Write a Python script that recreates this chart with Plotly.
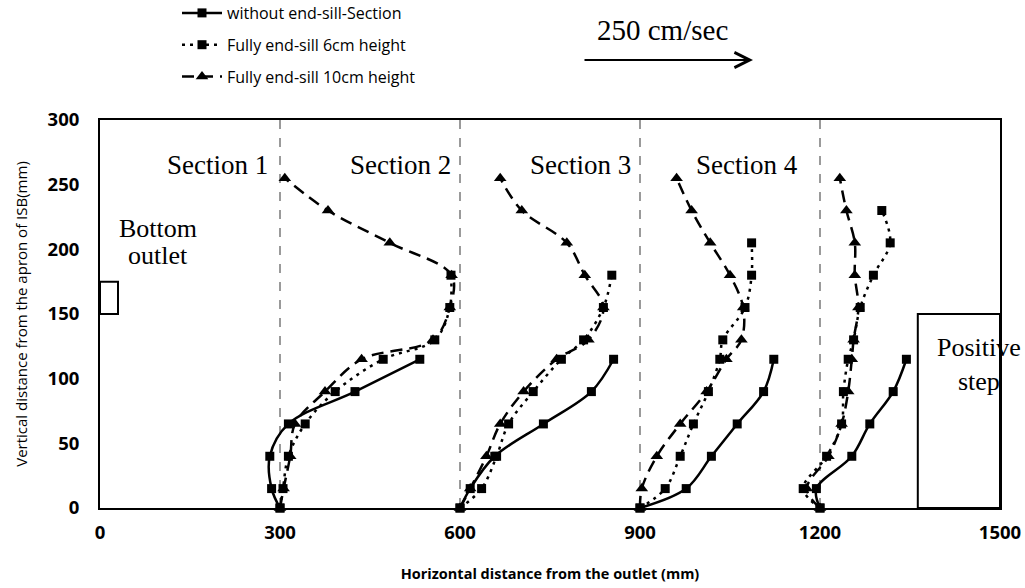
import plotly.graph_objects as go

# ---------------- data (mm) ----------------
series_names = ["without end-sill-Section", "Fully end-sill 6cm height", "Fully end-sill 10cm height"]
section_names = ["Section 1", "Section 2", "Section 3", "Section 4"]
section_bounds = [300, 600, 900, 1200]
x_ticks = [0, 300, 600, 900, 1200, 1500]
y_ticks = [0, 50, 100, 150, 200, 250, 300]

# without end-sill (solid, squares)
no_sill_y = [[0, 15, 40, 65, 90, 115]] * 4
no_sill_x = [
    [300, 286, 283, 314, 425, 533],
    [600, 617, 658, 739, 819, 856],
    [900, 977, 1019, 1062, 1106, 1123],
    [1200, 1194, 1253, 1283, 1322, 1344],
]

# fully end-sill 6 cm (dotted, squares)
sill6_y = [
    [0, 15, 40, 65, 90, 115, 130, 155, 180],
    [0, 15, 40, 65, 90, 115, 130, 155, 180],
    [0, 15, 40, 65, 90, 115, 130, 155, 180, 205],
    [0, 15, 40, 65, 90, 115, 130, 155, 180, 205, 230],
]
sill6_x = [
    [300, 305, 314, 342, 392, 472, 558, 583, 585],
    [600, 636, 661, 681, 722, 769, 806, 839, 853],
    [900, 942, 967, 989, 1014, 1033, 1038, 1075, 1086, 1086],
    [1200, 1172, 1211, 1236, 1239, 1247, 1256, 1267, 1289, 1317, 1303],
]

# fully end-sill 10 cm (dashed, triangles)
sill10_y = [[0, 15, 40, 65, 90, 115, 130, 155, 180, 205, 230, 255]] * 4
sill10_x = [
    [300, 306, 317, 325, 375, 436, 555, 583, 586, 483, 380, 308],
    [600, 617, 644, 667, 706, 761, 814, 839, 808, 778, 703, 667],
    [900, 903, 928, 967, 1011, 1044, 1069, 1072, 1050, 1017, 986, 961],
    [1200, 1178, 1214, 1236, 1247, 1253, 1256, 1264, 1258, 1258, 1244, 1233],
]

outlet_box = dict(x0=0, x1=30, y0=150, y1=175)
step_box = dict(x0=1363, x1=1500, y0=0, y1=150)


def join(xs, ys):
    X, Y = [], []
    for xa, ya in zip(xs, ys):
        if X:
            X.append(None)
            Y.append(None)
        X.extend(xa)
        Y.extend(ya)
    return X, Y


fig = go.Figure()
styles = [
    dict(dash="solid", symbol="square", size=9),
    dict(dash="3px,5px", symbol="square", size=9),
    dict(dash="12px,7px", symbol="triangle-up", size=11),
]
for i, (name, xs, ys) in enumerate(zip(series_names,
                                       [no_sill_x, sill6_x, sill10_x],
                                       [no_sill_y, sill6_y, sill10_y])):
    X, Y = join(xs, ys)
    st = styles[i]
    fig.add_trace(go.Scatter(
        x=X, y=Y, name=name, mode="lines+markers", legendgroup=f"g{i}",
        line=dict(color="black", width=2.5, dash=st["dash"], shape="spline", smoothing=1.0),
        marker=dict(color="black", symbol=st["symbol"], size=st["size"]),
        connectgaps=False, cliponaxis=False,
    ))

# boxes
for b in (outlet_box, step_box):
    fig.add_shape(type="rect", xref="x", yref="y", line=dict(color="black", width=2),
                  fillcolor="rgba(0,0,0,0)", **b)

serif = "Liberation Serif"
shifts = [-10, -7, -7, -20]
for name, bx, sh in zip(section_names, section_bounds, shifts):
    fig.add_annotation(x=bx, y=265, xref="x", yref="y", text=name, showarrow=False,
                       xanchor="right", yanchor="middle", xshift=sh,
                       font=dict(family=serif, size=27, color="black"))

fig.add_annotation(x=97, y=216, xref="x", yref="y", text="Bottom", showarrow=False,
                   font=dict(family=serif, size=26, color="black"))
fig.add_annotation(x=97, y=195, xref="x", yref="y", text="outlet", showarrow=False,
                   font=dict(family=serif, size=26, color="black"))
fig.add_annotation(x=1465, y=111, xref="x", yref="y", text="Positive<br>step", showarrow=False,
                   font=dict(family=serif, size=26, color="black"), align="center")

# velocity scale arrow
fig.add_annotation(x=(753 - 100) / 900, y=(508 - 60) / 388, xref="paper", yref="paper",
                   ax=-170, ay=0, text="", showarrow=True, arrowhead=5, arrowsize=1.5,
                   arrowwidth=2, arrowcolor="black")
fig.add_annotation(x=(662 - 100) / 900, y=(508 - 30) / 388, xref="paper", yref="paper",
                   text="250 cm/sec", showarrow=False, yanchor="middle",
                   font=dict(family=serif, size=29, color="black"))

fig.update_layout(
    width=1025, height=588,
    margin=dict(l=100, r=25, t=120, b=80, autoexpand=False),
    paper_bgcolor="white", plot_bgcolor="white",
    showlegend=True,
    legend=dict(x=(177 - 100) / 900, y=(508 + 4) / 388, xanchor="left", yanchor="top",
                xref="paper", yref="paper", traceorder="grouped", tracegroupgap=8,
                font=dict(family="Open Sans", size=16, color="black"),
                bgcolor="rgba(0,0,0,0)", itemwidth=40),
    font=dict(family="Open Sans", color="black"),
)
fig.update_xaxes(range=[0, 1500], tickvals=x_ticks, ticktext=[str(v) for v in x_ticks],
                 showline=True, linecolor="black", linewidth=2, mirror=True,
                 showgrid=True, gridcolor="#9a9a9a", griddash="dash", gridwidth=1.5,
                 zeroline=False, ticks="outside", ticklen=7, tickcolor="rgba(0,0,0,0)",
                 tickfont=dict(family="Open Sans", size=18.5, color="black", weight="bold"),
                 title=dict(text="<b>Horizontal distance from the outlet (mm)</b>", standoff=26,
                            font=dict(family="Open Sans", size=14.5, color="black")))
fig.update_yaxes(range=[0, 300], tickvals=y_ticks,
                 showline=True, linecolor="black", linewidth=2, mirror=True,
                 showgrid=False, zeroline=False, ticks="outside", ticklen=15,
                 tickcolor="rgba(0,0,0,0)",
                 tickfont=dict(family="Open Sans", size=18.5, color="black", weight="bold"),
                 title=dict(text="Vertical distance from the apron of ISB(mm)", standoff=16,
                            font=dict(family="Open Sans", size=15, color="black")))

fig.write_html("out.html", post_script="document.body.style.margin='0';",
               config={"displayModeBar": False})
